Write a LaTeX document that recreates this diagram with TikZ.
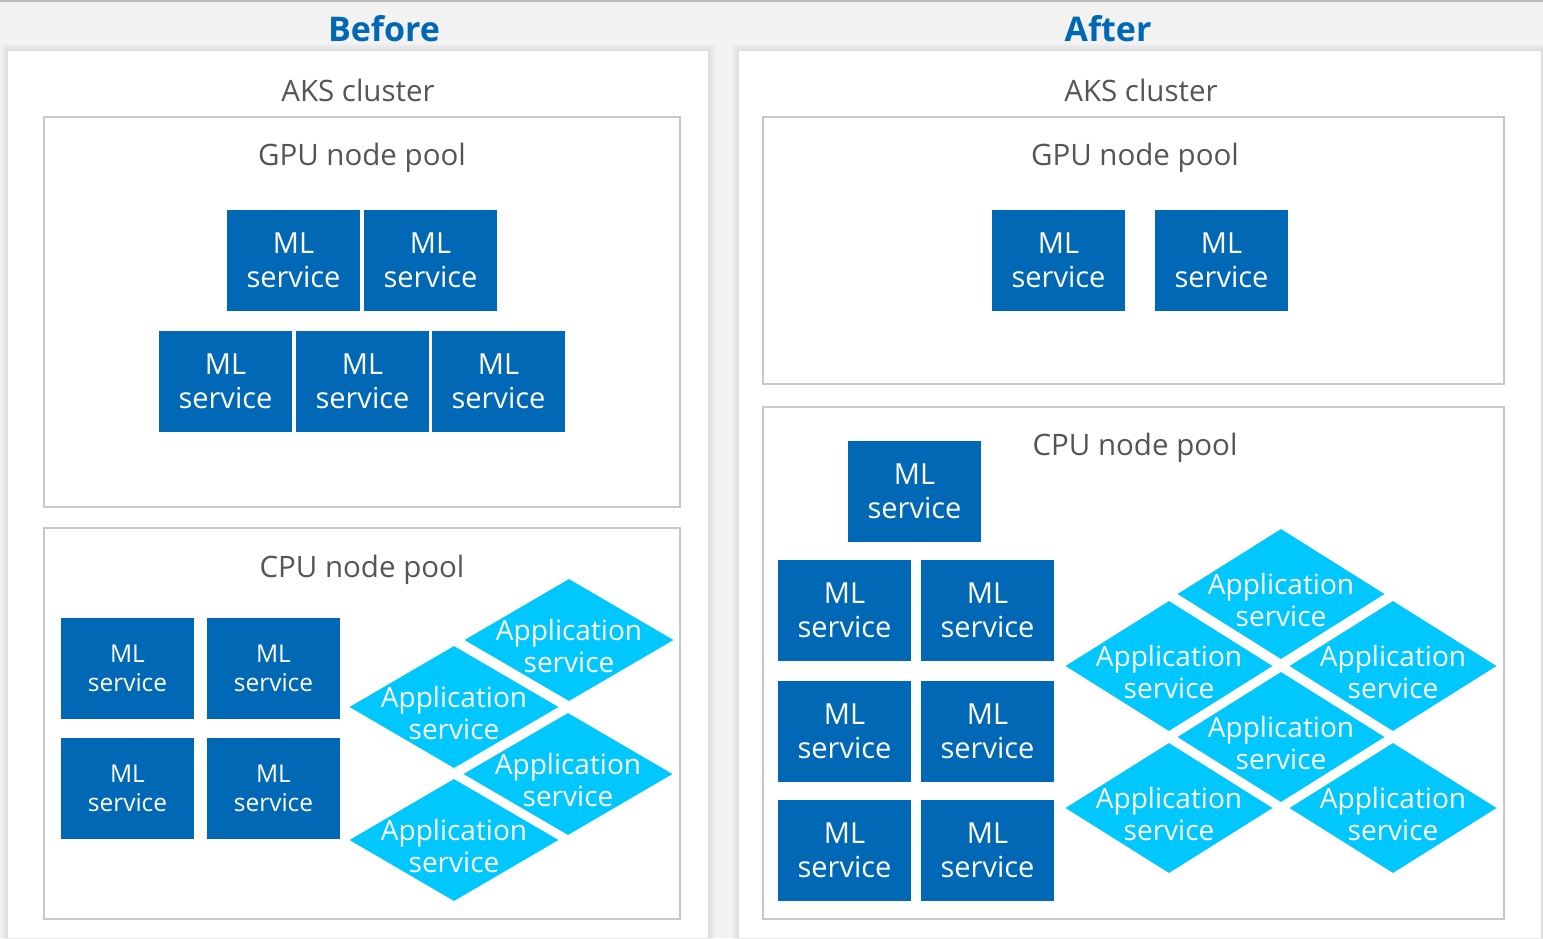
\documentclass[tikz,border=0pt]{standalone}
\usepackage{fontspec}
\setmainfont{Open Sans}
\usetikzlibrary{shapes.geometric}

\definecolor{pagebg}{HTML}{F2F2F2}
\definecolor{intelblue}{HTML}{0068B5}
\definecolor{appcyan}{HTML}{00C7FD}
\definecolor{poolline}{HTML}{C8C8C8}
\definecolor{labelgray}{HTML}{555555}
\definecolor{topline}{HTML}{BDBDBD}

\tikzset{
  heading/.style={font=\fontsize{34}{40}\selectfont\bfseries, text=intelblue, inner sep=0pt},
  clusterlabel/.style={font=\fontsize{29.5}{34}\selectfont, text=labelgray, inner sep=0pt},
  poollabel/.style={font=\fontsize{29.5}{34}\selectfont, text=labelgray, inner sep=0pt},
  poolbox/.style={draw=poolline, line width=1.5pt},
  panel/.style={fill=white},
  mlbox/.style={fill=intelblue, text=white, align=center, inner sep=0pt,
    minimum width=133pt, minimum height=101pt, font=\fontsize{29}{34}\selectfont},
  mlsmall/.style={mlbox, font=\fontsize{24.5}{29}\selectfont},
  appdia/.style={diamond, fill=appcyan, inner sep=0pt, minimum width=209pt, minimum height=122pt,
    label={[apptext]center:{Application\\service}}},
  appdiatall/.style={appdia, minimum width=207pt, minimum height=130pt},
  apptext/.style={font=\fontsize{28}{32}\selectfont, text=white, align=center, inner sep=0pt, yshift=-6pt},
}

\begin{document}
\begin{tikzpicture}[x=1pt,y=-1pt]
\useasboundingbox (0,0) rectangle (1543,938);
\fill[pagebg] (0,0) rectangle (1543,938);
\draw[topline, line width=2pt] (0,1) -- (1543,1);

% soft shadows under the two panels
\foreach \k in {1,...,7}{
  \fill[black, opacity=0.012] (8-\k,51-\k) rectangle (708+\k,938+\k);
  \fill[black, opacity=0.012] (739-\k,51-\k) rectangle (1541+\k,938+\k);
}
\fill[panel] (8,51) rectangle (708,938);
\fill[panel] (739,51) rectangle (1541,938);

\node[heading] (before) at (384,29) {Before};
\node[heading] (after) at (1108,29) {After};

% ---------- Before ----------
\node[clusterlabel] (aksA) at (358,90) {AKS cluster};
\draw[poolbox] (44,117) rectangle (680,507);
\node[poollabel] (gpuA) at (362,158) {GPU node pool};

\node[mlbox] (gA1) at (293.5,260.5) {ML\\service};
\node[mlbox] (gA2) at (430.5,260.5) {ML\\service};
\node[mlbox] (gA3) at (225.5,381) {ML\\service};
\node[mlbox] (gA4) at (362.5,381) {ML\\service};
\node[mlbox] (gA5) at (498.5,381) {ML\\service};

\draw[poolbox] (44,528) rectangle (680,919);
\node[poollabel] (cpuA) at (362,570) {CPU node pool};

\node[mlsmall] (cA1) at (127.5,668) {ML\\service};
\node[mlsmall] (cA2) at (273.5,668) {ML\\service};
\node[mlsmall] (cA3) at (127.5,788.5) {ML\\service};
\node[mlsmall] (cA4) at (273.5,788.5) {ML\\service};

\node[appdia] (aA1) at (569,640) {};
\node[appdia] (aA2) at (454,707) {};
\node[appdia] (aA3) at (568,774) {};
\node[appdia] (aA4) at (454,840) {};

% ---------- After ----------
\node[clusterlabel] (aksB) at (1141,90) {AKS cluster};
\draw[poolbox] (763,117) rectangle (1504,384);
\node[poollabel] (gpuB) at (1135,158) {GPU node pool};

\node[mlbox] (gB1) at (1058.5,260.5) {ML\\service};
\node[mlbox] (gB2) at (1221.5,260.5) {ML\\service};

\draw[poolbox] (763,407) rectangle (1504,919);
\node[poollabel] (cpuB) at (1135,448) {CPU node pool};

\node[mlbox] (cB0) at (914.5,491) {ML\\service};
\node[mlbox] (cB1) at (844.5,610.5) {ML\\service};
\node[mlbox] (cB2) at (987.5,610.5) {ML\\service};
\node[mlbox] (cB3) at (844.5,731) {ML\\service};
\node[mlbox] (cB4) at (987.5,731) {ML\\service};
\node[mlbox] (cB5) at (844.5,850.5) {ML\\service};
\node[mlbox] (cB6) at (987.5,850.5) {ML\\service};

\node[appdiatall] (aB1) at (1281,594) {};
\node[appdiatall] (aB2) at (1169,666) {};
\node[appdiatall] (aB3) at (1393,666) {};
\node[appdiatall] (aB4) at (1281,737) {};
\node[appdiatall] (aB5) at (1169,808) {};
\node[appdiatall] (aB6) at (1393,808) {};
\end{tikzpicture}
\end{document}
